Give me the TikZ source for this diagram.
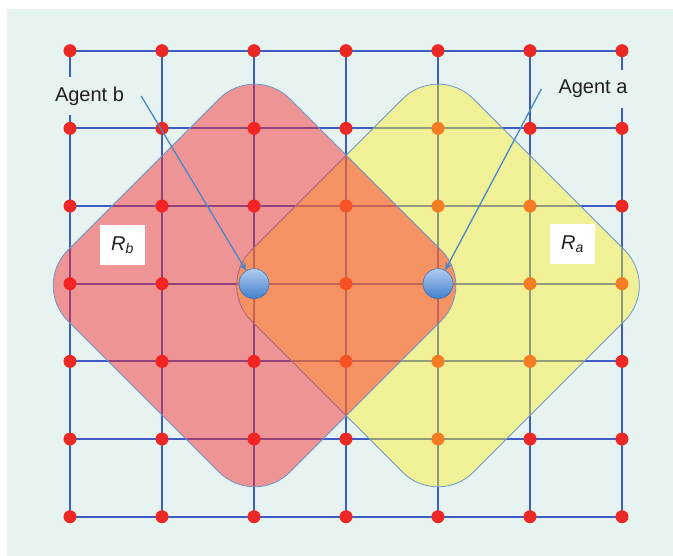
\documentclass[tikz,border=0pt]{standalone}
\usepackage{fontspec}
\setmainfont{Liberation Sans}
\usetikzlibrary{arrows.meta, calc}
\definecolor{mint}{RGB}{230,243,240}
\definecolor{gridblue}{RGB}{62,92,196}
\definecolor{dotred}{RGB}{236,40,36}
\definecolor{zonered}{RGB}{252,33,37}
\definecolor{zoneyellow}{RGB}{255,237,32}
\definecolor{edgeblue}{RGB}{110,150,205}
\definecolor{arrowblue}{RGB}{74,134,200}
\definecolor{ballhi}{RGB}{176,206,240}
\definecolor{balllo}{RGB}{66,126,204}
\definecolor{ink}{RGB}{35,31,32}
\tikzset{
  dot/.style={circle, fill=dotred, inner sep=0pt, minimum size=13pt},
  zone/.style={draw=edgeblue, line width=0.8pt, rotate=45, minimum size=314pt, rounded corners=50pt, fill=#1},
  agent/.style={circle, draw=balllo!85!black, line width=0.5pt, top color=ballhi, bottom color=balllo, minimum size=30pt, inner sep=0pt},
  tag/.style={fill=mint, inner xsep=17pt, inner ysep=10pt, text=ink, font=\fontsize{20}{24}\selectfont},
  rlabel/.style={fill=white, minimum width=45pt, minimum height=40pt, inner sep=0pt, text=ink, font=\fontsize{20}{24}\selectfont\itshape},
  arr/.style={-{Stealth[length=8pt, width=7pt, inset=2.5pt]}, line width=1.3pt, arrowblue},
}

\begin{document}
\begin{tikzpicture}[x=1pt, y=-1pt]
  \useasboundingbox (0,0) rectangle (673,556);
  \fill[mint] (7,9) rectangle (673,556);
  \foreach \i in {0,...,6} \foreach \j in {0,...,6}
    \coordinate (p\i\j) at ({70+92*\i},{50.7+77.67*\j});
  \foreach \k in {0,...,6} {
    \draw[gridblue, line width=2.2pt] (p0\k) -- (p6\k);
    \draw[gridblue, line width=2.2pt] (p\k0) -- (p\k6);
  }
  \foreach \i in {0,...,6} \foreach \j in {0,...,6} \node[dot] (d\i\j) at (p\i\j) {};
  \node[zone=zoneyellow, fill opacity=0.43] (Ra) at (438,285.5) {};
  \node[zone=zonered, fill opacity=0.45] (Rb) at (254.5,285.5) {};
  \node[rlabel] (tRb) at (122.5,245) {R\textsubscript{b}};
  \node[rlabel] (tRa) at (572.5,244.5) {R\textsubscript{a}};
  \node[tag] (lblb) at (89.5,96) {Agent b};
  \node[tag] (lbla) at (593,89) {Agent a};
  \node[agent] (agb) at (p23) {};
  \node[agent] (aga) at (p43) {};
  \draw[arr] (lblb.east) -- (agb);
  \draw[arr] (lbla.west) -- (aga);
\end{tikzpicture}
\end{document}
